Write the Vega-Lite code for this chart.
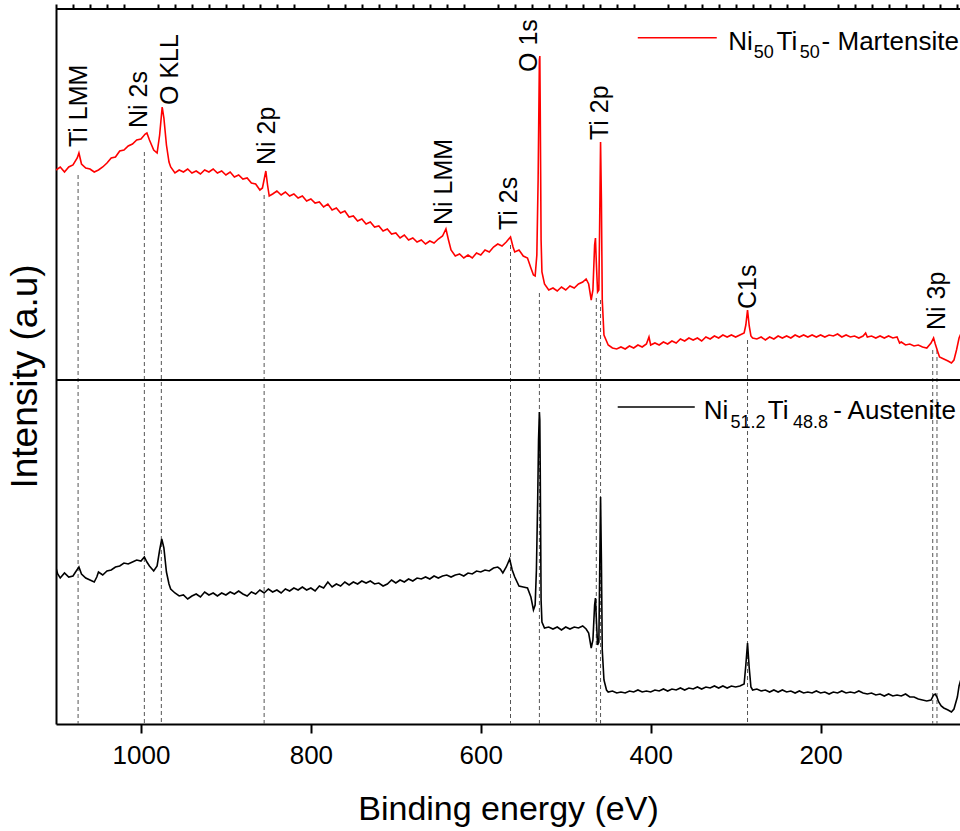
{
  "$schema": "https://vega.github.io/schema/vega-lite/v6.json",
  "width": 904,
  "height": 715,
  "autosize": "none",
  "padding": {"left": 56, "top": 9, "right": 0, "bottom": 107},
  "background": "white",
  "config": {"view": {"stroke": null}, "font": "Liberation Sans"},
  "resolve": {"axis": {"x": "independent"}},
  "datasets": {
    "spectra": [
      {"s":"M","e":1100,"i":5540},{"s":"M","e":1095,"i":5570},{"s":"M","e":1090,"i":5520},{"s":"M","e":1085,"i":5570},{"s":"M","e":1080,"i":5590},{"s":"M","e":1075,"i":5660},{"s":"M","e":1073,"i":5710},{"s":"M","e":1070,"i":5600},{"s":"M","e":1065,"i":5560},{"s":"M","e":1060,"i":5550},{"s":"M","e":1055,"i":5520},{"s":"M","e":1050,"i":5540},{"s":"M","e":1045,"i":5570},{"s":"M","e":1040,"i":5610},{"s":"M","e":1035,"i":5660},{"s":"M","e":1030,"i":5670},{"s":"M","e":1025,"i":5730},{"s":"M","e":1020,"i":5740},{"s":"M","e":1015,"i":5780},{"s":"M","e":1010,"i":5800},{"s":"M","e":1005,"i":5840},{"s":"M","e":1000,"i":5850},{"s":"M","e":995,"i":5900},{"s":"M","e":993,"i":5910},{"s":"M","e":990,"i":5840},{"s":"M","e":985,"i":5740},{"s":"M","e":981,"i":5710},{"s":"M","e":978,"i":5890},{"s":"M","e":975,"i":6170},{"s":"M","e":973,"i":6060},{"s":"M","e":970,"i":5790},{"s":"M","e":967,"i":5620},{"s":"M","e":965,"i":5570},{"s":"M","e":960,"i":5510},{"s":"M","e":955,"i":5540},{"s":"M","e":950,"i":5520},{"s":"M","e":945,"i":5550},{"s":"M","e":940,"i":5510},{"s":"M","e":935,"i":5530},{"s":"M","e":930,"i":5500},{"s":"M","e":925,"i":5540},{"s":"M","e":920,"i":5520},{"s":"M","e":915,"i":5550},{"s":"M","e":910,"i":5510},{"s":"M","e":905,"i":5530},{"s":"M","e":900,"i":5490},{"s":"M","e":895,"i":5520},{"s":"M","e":890,"i":5470},{"s":"M","e":885,"i":5490},{"s":"M","e":880,"i":5450},{"s":"M","e":875,"i":5460},{"s":"M","e":870,"i":5410},{"s":"M","e":865,"i":5400},{"s":"M","e":860,"i":5340},{"s":"M","e":857,"i":5360},{"s":"M","e":853,"i":5530},{"s":"M","e":851,"i":5390},{"s":"M","e":849,"i":5280},{"s":"M","e":845,"i":5300},{"s":"M","e":840,"i":5330},{"s":"M","e":835,"i":5290},{"s":"M","e":830,"i":5320},{"s":"M","e":825,"i":5280},{"s":"M","e":820,"i":5300},{"s":"M","e":815,"i":5260},{"s":"M","e":810,"i":5280},{"s":"M","e":805,"i":5230},{"s":"M","e":800,"i":5250},{"s":"M","e":795,"i":5210},{"s":"M","e":790,"i":5220},{"s":"M","e":785,"i":5170},{"s":"M","e":780,"i":5200},{"s":"M","e":775,"i":5140},{"s":"M","e":770,"i":5160},{"s":"M","e":765,"i":5110},{"s":"M","e":760,"i":5130},{"s":"M","e":755,"i":5070},{"s":"M","e":750,"i":5080},{"s":"M","e":745,"i":5030},{"s":"M","e":740,"i":5050},{"s":"M","e":735,"i":5000},{"s":"M","e":730,"i":5020},{"s":"M","e":725,"i":4970},{"s":"M","e":720,"i":4980},{"s":"M","e":715,"i":4930},{"s":"M","e":710,"i":4950},{"s":"M","e":705,"i":4900},{"s":"M","e":700,"i":4910},{"s":"M","e":695,"i":4860},{"s":"M","e":690,"i":4890},{"s":"M","e":685,"i":4840},{"s":"M","e":680,"i":4860},{"s":"M","e":675,"i":4820},{"s":"M","e":670,"i":4840},{"s":"M","e":665,"i":4800},{"s":"M","e":660,"i":4830},{"s":"M","e":655,"i":4810},{"s":"M","e":650,"i":4850},{"s":"M","e":645,"i":4880},{"s":"M","e":641,"i":4950},{"s":"M","e":638,"i":4840},{"s":"M","e":635,"i":4740},{"s":"M","e":630,"i":4680},{"s":"M","e":625,"i":4700},{"s":"M","e":620,"i":4660},{"s":"M","e":615,"i":4690},{"s":"M","e":610,"i":4660},{"s":"M","e":605,"i":4710},{"s":"M","e":600,"i":4690},{"s":"M","e":595,"i":4740},{"s":"M","e":590,"i":4720},{"s":"M","e":585,"i":4770},{"s":"M","e":580,"i":4800},{"s":"M","e":575,"i":4780},{"s":"M","e":570,"i":4820},{"s":"M","e":565,"i":4870},{"s":"M","e":562,"i":4770},{"s":"M","e":560,"i":4720},{"s":"M","e":555,"i":4740},{"s":"M","e":550,"i":4680},{"s":"M","e":545,"i":4660},{"s":"M","e":541,"i":4560},{"s":"M","e":538,"i":4490},{"s":"M","e":536,"i":4480},{"s":"M","e":534,"i":4690},{"s":"M","e":532.5,"i":5440},{"s":"M","e":531,"i":6640},{"s":"M","e":530.5,"i":6680},{"s":"M","e":530,"i":6140},{"s":"M","e":529,"i":4840},{"s":"M","e":528,"i":4520},{"s":"M","e":525,"i":4400},{"s":"M","e":520,"i":4340},{"s":"M","e":515,"i":4360},{"s":"M","e":510,"i":4330},{"s":"M","e":505,"i":4370},{"s":"M","e":500,"i":4340},{"s":"M","e":495,"i":4380},{"s":"M","e":490,"i":4360},{"s":"M","e":485,"i":4400},{"s":"M","e":480,"i":4420},{"s":"M","e":476,"i":4450},{"s":"M","e":473,"i":4400},{"s":"M","e":470,"i":4240},{"s":"M","e":468,"i":4340},{"s":"M","e":466,"i":4790},{"s":"M","e":465,"i":4860},{"s":"M","e":464,"i":4620},{"s":"M","e":462.5,"i":4320},{"s":"M","e":461,"i":4340},{"s":"M","e":460,"i":5040},{"s":"M","e":459,"i":5820},{"s":"M","e":458,"i":5240},{"s":"M","e":457,"i":4240},{"s":"M","e":455,"i":3890},{"s":"M","e":450,"i":3790},{"s":"M","e":445,"i":3760},{"s":"M","e":440,"i":3750},{"s":"M","e":435,"i":3770},{"s":"M","e":430,"i":3750},{"s":"M","e":425,"i":3780},{"s":"M","e":420,"i":3760},{"s":"M","e":415,"i":3790},{"s":"M","e":410,"i":3770},{"s":"M","e":405,"i":3800},{"s":"M","e":402,"i":3870},{"s":"M","e":400,"i":3790},{"s":"M","e":395,"i":3810},{"s":"M","e":390,"i":3790},{"s":"M","e":385,"i":3820},{"s":"M","e":380,"i":3800},{"s":"M","e":375,"i":3830},{"s":"M","e":370,"i":3810},{"s":"M","e":365,"i":3850},{"s":"M","e":360,"i":3830},{"s":"M","e":355,"i":3860},{"s":"M","e":350,"i":3840},{"s":"M","e":345,"i":3860},{"s":"M","e":340,"i":3830},{"s":"M","e":335,"i":3870},{"s":"M","e":330,"i":3850},{"s":"M","e":325,"i":3880},{"s":"M","e":320,"i":3860},{"s":"M","e":315,"i":3890},{"s":"M","e":310,"i":3870},{"s":"M","e":305,"i":3890},{"s":"M","e":300,"i":3870},{"s":"M","e":295,"i":3890},{"s":"M","e":290,"i":3910},{"s":"M","e":288,"i":3990},{"s":"M","e":286,"i":4140},{"s":"M","e":284,"i":3980},{"s":"M","e":282,"i":3880},{"s":"M","e":280,"i":3860},{"s":"M","e":275,"i":3850},{"s":"M","e":270,"i":3870},{"s":"M","e":265,"i":3840},{"s":"M","e":260,"i":3870},{"s":"M","e":255,"i":3850},{"s":"M","e":250,"i":3880},{"s":"M","e":245,"i":3860},{"s":"M","e":240,"i":3880},{"s":"M","e":235,"i":3860},{"s":"M","e":230,"i":3890},{"s":"M","e":225,"i":3870},{"s":"M","e":220,"i":3890},{"s":"M","e":215,"i":3870},{"s":"M","e":210,"i":3890},{"s":"M","e":205,"i":3870},{"s":"M","e":200,"i":3890},{"s":"M","e":195,"i":3870},{"s":"M","e":190,"i":3890},{"s":"M","e":185,"i":3880},{"s":"M","e":180,"i":3900},{"s":"M","e":175,"i":3870},{"s":"M","e":170,"i":3890},{"s":"M","e":165,"i":3870},{"s":"M","e":160,"i":3880},{"s":"M","e":155,"i":3860},{"s":"M","e":150,"i":3880},{"s":"M","e":147,"i":3910},{"s":"M","e":145,"i":3870},{"s":"M","e":140,"i":3880},{"s":"M","e":135,"i":3860},{"s":"M","e":130,"i":3880},{"s":"M","e":125,"i":3860},{"s":"M","e":120,"i":3880},{"s":"M","e":115,"i":3860},{"s":"M","e":110,"i":3870},{"s":"M","e":107,"i":3810},{"s":"M","e":105,"i":3820},{"s":"M","e":100,"i":3790},{"s":"M","e":95,"i":3800},{"s":"M","e":90,"i":3780},{"s":"M","e":85,"i":3790},{"s":"M","e":80,"i":3770},{"s":"M","e":75,"i":3760},{"s":"M","e":70,"i":3810},{"s":"M","e":67,"i":3860},{"s":"M","e":65,"i":3800},{"s":"M","e":62,"i":3720},{"s":"M","e":60,"i":3670},{"s":"M","e":55,"i":3650},{"s":"M","e":50,"i":3630},{"s":"M","e":46,"i":3610},{"s":"M","e":43,"i":3640},{"s":"M","e":40,"i":3740},{"s":"M","e":37,"i":3860},{"s":"M","e":35,"i":3900},
      {"s":"A","e":1100,"i":1560},{"s":"A","e":1098,"i":1500},{"s":"A","e":1095,"i":1460},{"s":"A","e":1090,"i":1510},{"s":"A","e":1085,"i":1470},{"s":"A","e":1080,"i":1480},{"s":"A","e":1077,"i":1520},{"s":"A","e":1073,"i":1570},{"s":"A","e":1070,"i":1500},{"s":"A","e":1065,"i":1460},{"s":"A","e":1060,"i":1440},{"s":"A","e":1055,"i":1420},{"s":"A","e":1052,"i":1470},{"s":"A","e":1050,"i":1520},{"s":"A","e":1045,"i":1490},{"s":"A","e":1040,"i":1530},{"s":"A","e":1035,"i":1540},{"s":"A","e":1030,"i":1570},{"s":"A","e":1025,"i":1580},{"s":"A","e":1020,"i":1610},{"s":"A","e":1015,"i":1600},{"s":"A","e":1010,"i":1620},{"s":"A","e":1005,"i":1640},{"s":"A","e":1000,"i":1630},{"s":"A","e":996,"i":1670},{"s":"A","e":993,"i":1620},{"s":"A","e":990,"i":1580},{"s":"A","e":985,"i":1530},{"s":"A","e":981,"i":1580},{"s":"A","e":978,"i":1740},{"s":"A","e":975.5,"i":1850},{"s":"A","e":973,"i":1760},{"s":"A","e":970,"i":1520},{"s":"A","e":967,"i":1400},{"s":"A","e":965,"i":1350},{"s":"A","e":960,"i":1310},{"s":"A","e":955,"i":1280},{"s":"A","e":950,"i":1290},{"s":"A","e":945,"i":1250},{"s":"A","e":940,"i":1280},{"s":"A","e":935,"i":1300},{"s":"A","e":930,"i":1270},{"s":"A","e":925,"i":1320},{"s":"A","e":920,"i":1290},{"s":"A","e":915,"i":1310},{"s":"A","e":910,"i":1280},{"s":"A","e":905,"i":1310},{"s":"A","e":900,"i":1290},{"s":"A","e":895,"i":1320},{"s":"A","e":890,"i":1300},{"s":"A","e":885,"i":1330},{"s":"A","e":880,"i":1300},{"s":"A","e":875,"i":1280},{"s":"A","e":870,"i":1320},{"s":"A","e":865,"i":1300},{"s":"A","e":860,"i":1340},{"s":"A","e":855,"i":1310},{"s":"A","e":850,"i":1350},{"s":"A","e":845,"i":1320},{"s":"A","e":840,"i":1340},{"s":"A","e":835,"i":1310},{"s":"A","e":830,"i":1350},{"s":"A","e":825,"i":1330},{"s":"A","e":820,"i":1360},{"s":"A","e":815,"i":1340},{"s":"A","e":810,"i":1370},{"s":"A","e":805,"i":1340},{"s":"A","e":800,"i":1360},{"s":"A","e":795,"i":1330},{"s":"A","e":790,"i":1380},{"s":"A","e":785,"i":1360},{"s":"A","e":780,"i":1420},{"s":"A","e":775,"i":1370},{"s":"A","e":770,"i":1400},{"s":"A","e":765,"i":1380},{"s":"A","e":760,"i":1420},{"s":"A","e":755,"i":1390},{"s":"A","e":750,"i":1420},{"s":"A","e":745,"i":1400},{"s":"A","e":740,"i":1430},{"s":"A","e":735,"i":1410},{"s":"A","e":730,"i":1430},{"s":"A","e":725,"i":1400},{"s":"A","e":720,"i":1410},{"s":"A","e":715,"i":1380},{"s":"A","e":710,"i":1400},{"s":"A","e":705,"i":1440},{"s":"A","e":700,"i":1410},{"s":"A","e":695,"i":1440},{"s":"A","e":690,"i":1420},{"s":"A","e":685,"i":1450},{"s":"A","e":680,"i":1430},{"s":"A","e":675,"i":1460},{"s":"A","e":670,"i":1450},{"s":"A","e":665,"i":1470},{"s":"A","e":660,"i":1450},{"s":"A","e":655,"i":1480},{"s":"A","e":650,"i":1460},{"s":"A","e":645,"i":1480},{"s":"A","e":640,"i":1490},{"s":"A","e":635,"i":1470},{"s":"A","e":630,"i":1490},{"s":"A","e":625,"i":1500},{"s":"A","e":620,"i":1480},{"s":"A","e":615,"i":1510},{"s":"A","e":610,"i":1500},{"s":"A","e":605,"i":1530},{"s":"A","e":600,"i":1520},{"s":"A","e":595,"i":1540},{"s":"A","e":590,"i":1530},{"s":"A","e":585,"i":1560},{"s":"A","e":580,"i":1570},{"s":"A","e":577,"i":1550},{"s":"A","e":574,"i":1510},{"s":"A","e":570,"i":1570},{"s":"A","e":566,"i":1650},{"s":"A","e":563,"i":1540},{"s":"A","e":560,"i":1470},{"s":"A","e":555,"i":1380},{"s":"A","e":550,"i":1370},{"s":"A","e":545,"i":1360},{"s":"A","e":541,"i":1270},{"s":"A","e":538,"i":1140},{"s":"A","e":536,"i":1190},{"s":"A","e":534.5,"i":1540},{"s":"A","e":533,"i":2240},{"s":"A","e":532,"i":2840},{"s":"A","e":531,"i":3120},{"s":"A","e":530.5,"i":3040},{"s":"A","e":530,"i":2540},{"s":"A","e":529,"i":1240},{"s":"A","e":528,"i":1020},{"s":"A","e":525,"i":960},{"s":"A","e":520,"i":970},{"s":"A","e":515,"i":950},{"s":"A","e":510,"i":970},{"s":"A","e":505,"i":940},{"s":"A","e":500,"i":970},{"s":"A","e":495,"i":950},{"s":"A","e":490,"i":970},{"s":"A","e":485,"i":960},{"s":"A","e":480,"i":980},{"s":"A","e":476,"i":950},{"s":"A","e":473,"i":910},{"s":"A","e":470,"i":760},{"s":"A","e":468,"i":840},{"s":"A","e":466,"i":1190},{"s":"A","e":465,"i":1260},{"s":"A","e":464,"i":1060},{"s":"A","e":462.5,"i":790},{"s":"A","e":461,"i":820},{"s":"A","e":460,"i":1540},{"s":"A","e":459,"i":2270},{"s":"A","e":458,"i":1640},{"s":"A","e":457,"i":740},{"s":"A","e":455,"i":440},{"s":"A","e":452,"i":340},{"s":"A","e":450,"i":320},{"s":"A","e":445,"i":330},{"s":"A","e":440,"i":310},{"s":"A","e":435,"i":320},{"s":"A","e":430,"i":310},{"s":"A","e":425,"i":330},{"s":"A","e":420,"i":320},{"s":"A","e":415,"i":340},{"s":"A","e":410,"i":320},{"s":"A","e":405,"i":330},{"s":"A","e":400,"i":320},{"s":"A","e":395,"i":340},{"s":"A","e":390,"i":330},{"s":"A","e":385,"i":350},{"s":"A","e":380,"i":330},{"s":"A","e":375,"i":350},{"s":"A","e":370,"i":340},{"s":"A","e":365,"i":360},{"s":"A","e":360,"i":340},{"s":"A","e":355,"i":360},{"s":"A","e":350,"i":350},{"s":"A","e":345,"i":370},{"s":"A","e":340,"i":350},{"s":"A","e":335,"i":370},{"s":"A","e":330,"i":360},{"s":"A","e":325,"i":380},{"s":"A","e":320,"i":360},{"s":"A","e":315,"i":380},{"s":"A","e":310,"i":360},{"s":"A","e":305,"i":380},{"s":"A","e":300,"i":370},{"s":"A","e":295,"i":380},{"s":"A","e":290,"i":400},{"s":"A","e":288,"i":590},{"s":"A","e":286,"i":810},{"s":"A","e":284,"i":560},{"s":"A","e":282,"i":370},{"s":"A","e":280,"i":340},{"s":"A","e":275,"i":350},{"s":"A","e":270,"i":330},{"s":"A","e":265,"i":340},{"s":"A","e":260,"i":320},{"s":"A","e":255,"i":340},{"s":"A","e":250,"i":320},{"s":"A","e":245,"i":340},{"s":"A","e":240,"i":320},{"s":"A","e":235,"i":330},{"s":"A","e":230,"i":310},{"s":"A","e":225,"i":330},{"s":"A","e":220,"i":310},{"s":"A","e":215,"i":320},{"s":"A","e":210,"i":310},{"s":"A","e":205,"i":330},{"s":"A","e":200,"i":310},{"s":"A","e":195,"i":320},{"s":"A","e":190,"i":300},{"s":"A","e":185,"i":320},{"s":"A","e":180,"i":310},{"s":"A","e":175,"i":330},{"s":"A","e":170,"i":310},{"s":"A","e":165,"i":320},{"s":"A","e":160,"i":310},{"s":"A","e":155,"i":330},{"s":"A","e":150,"i":310},{"s":"A","e":145,"i":300},{"s":"A","e":140,"i":310},{"s":"A","e":135,"i":290},{"s":"A","e":130,"i":300},{"s":"A","e":125,"i":280},{"s":"A","e":120,"i":300},{"s":"A","e":115,"i":280},{"s":"A","e":110,"i":290},{"s":"A","e":105,"i":280},{"s":"A","e":100,"i":300},{"s":"A","e":95,"i":270},{"s":"A","e":90,"i":270},{"s":"A","e":85,"i":250},{"s":"A","e":80,"i":240},{"s":"A","e":75,"i":230},{"s":"A","e":70,"i":240},{"s":"A","e":67,"i":290},{"s":"A","e":65,"i":300},{"s":"A","e":63,"i":270},{"s":"A","e":61,"i":220},{"s":"A","e":58,"i":180},{"s":"A","e":55,"i":160},{"s":"A","e":50,"i":140},{"s":"A","e":46,"i":120},{"s":"A","e":43,"i":150},{"s":"A","e":41,"i":210},{"s":"A","e":39,"i":270},{"s":"A","e":37,"i":380},{"s":"A","e":35,"i":440}
    ],
    "peaks": [
      {"e":1074,"i":5490},{"e":996,"i":5720},{"e":976,"i":5520},{"e":855,"i":5290},{"e":565,"i":4790},{"e":531,"i":4310},{"e":464,"i":4260},{"e":459,"i":4240},{"e":286,"i":3840},{"e":68,"i":3740},{"e":63,"i":3740}
    ],
    "labels": [
      {"e":1072.5,"i":5770,"t":"Ti LMM"},{"e":1001.8,"i":5960,"t":"Ni 2s"},{"e":966,"i":6190,"t":"O KLL"},{"e":851.6,"i":5590,"t":"Ni 2p"},{"e":643.7,"i":4990,"t":"Ni LMM"},{"e":567.2,"i":4940,"t":"Ti 2s"},{"e":543.6,"i":6520,"t":"O 1s"},{"e":460,"i":5840,"t":"Ti 2p"},{"e":285.6,"i":4150,"t":"C1s"},{"e":63,"i":3940,"t":"Ni 3p"}
    ],
    "frame": [{"i":3440},{"i":7150}],
    "legendLines": [{"s":"M","e":415.2,"e2":322.2,"i":6863},{"s":"A","e":438.8,"e2":348.1,"i":3170}],
    "legendMain": [
      {"e":308.8,"i":6740,"t":"Ni"},{"e":251.8,"i":6740,"t":"Ti"},{"e":198.8,"i":6740,"t":"- Martensite"},
      {"e":337.5,"i":3050,"t":"Ni"},{"e":262.1,"i":3050,"t":"Ti"},{"e":185.2,"i":3050,"t":"- Austenite"}
    ],
    "legendSub": [
      {"e":278.6,"i":6660,"t":"50"},{"e":224.4,"i":6660,"t":"50"},{"e":306,"i":2960,"t":"51.2"},{"e":232.6,"i":2960,"t":"48.8"}
    ]
  },
  "layer": [
    {
      "data": {"name": "peaks"},
      "mark": {"type": "rule", "strokeDash": [4, 3], "strokeWidth": 1, "color": "#555555"},
      "encoding": {
        "x": {
          "field": "e", "type": "quantitative",
          "scale": {"domain": [35.9, 1100], "reverse": true, "nice": false, "zero": false},
          "axis": {
            "title": "Binding energy (eV)",
            "values": [1000, 800, 600, 400, 200],
            "format": "d",
            "labelOverlap": false,
            "labelFlush": false,
            "tickSize": 9,
            "tickWidth": 2,
            "tickColor": "black",
            "domainWidth": 2,
            "domainColor": "black",
            "grid": false,
            "labelFontSize": 26,
            "labelColor": "black",
            "labelPadding": 9,
            "labelFont": "Liberation Sans",
            "titleFont": "Liberation Sans",
            "titleFontSize": 34,
            "titleFontWeight": "normal",
            "titleColor": "black",
            "titlePadding": 24
          }
        },
        "y": {
          "field": "i", "type": "quantitative",
          "scale": {"domain": [0, 7150], "nice": false, "zero": false},
          "axis": {
            "title": "Intensity (a.u)",
            "ticks": false, "labels": false, "grid": false,
            "domainWidth": 2, "domainColor": "black",
            "titleFont": "Liberation Sans",
            "titleFontSize": 37,
            "titleFontWeight": "normal",
            "titleColor": "black",
            "titlePadding": 12,
            "titleY": 367
          }
        },
        "y2": {"datum": 0}
      }
    },
    {
      "data": {"name": "spectra"},
      "mark": {"type": "line", "strokeWidth": 1.6, "clip": true},
      "encoding": {
        "x": {
          "field": "e", "type": "quantitative",
          "axis": {
            "title": null,
            "values": [1100,1080,1060,1040,1020,980,960,940,920,900,880,860,840,820,780,760,740,720,700,680,660,640,620,580,560,540,520,500,480,460,440,420,380,360,340,320,300,280,260,240,220,180,160,140,120,100,80,60,40],
            "labels": false,
            "domain": false,
            "grid": false,
            "tickSize": 5,
            "tickWidth": 2,
            "tickColor": "black"
          }
        },
        "y": {"field": "i", "type": "quantitative"},
        "color": {"field": "s", "type": "nominal", "scale": {"domain": ["M", "A"], "range": ["#ff0000", "#000000"]}, "legend": null},
        "detail": {"field": "s"}
      }
    },
    {
      "data": {"name": "frame"},
      "mark": {"type": "rule", "strokeWidth": 2, "color": "black"},
      "encoding": {"y": {"field": "i", "type": "quantitative"}}
    },
    {
      "data": {"name": "labels"},
      "mark": {"type": "text", "angle": 270, "align": "left", "baseline": "middle", "fontSize": 25, "font": "Liberation Sans", "color": "black"},
      "encoding": {
        "x": {"field": "e", "type": "quantitative", "axis": null},
        "y": {"field": "i", "type": "quantitative"},
        "text": {"field": "t"}
      }
    },
    {
      "data": {"name": "legendLines"},
      "mark": {"type": "rule", "strokeWidth": 1.5},
      "encoding": {
        "x": {"field": "e", "type": "quantitative", "axis": null},
        "x2": {"field": "e2"},
        "y": {"field": "i", "type": "quantitative"},
        "color": {"field": "s", "type": "nominal", "legend": null}
      }
    },
    {
      "data": {"name": "legendMain"},
      "mark": {"type": "text", "align": "left", "baseline": "alphabetic", "fontSize": 26, "font": "Liberation Sans", "color": "black"},
      "encoding": {
        "x": {"field": "e", "type": "quantitative", "axis": null},
        "y": {"field": "i", "type": "quantitative"},
        "text": {"field": "t"}
      }
    },
    {
      "data": {"name": "legendSub"},
      "mark": {"type": "text", "align": "left", "baseline": "alphabetic", "fontSize": 18, "font": "Liberation Sans", "color": "black"},
      "encoding": {
        "x": {"field": "e", "type": "quantitative", "axis": null},
        "y": {"field": "i", "type": "quantitative"},
        "text": {"field": "t"}
      }
    }
  ]
}
